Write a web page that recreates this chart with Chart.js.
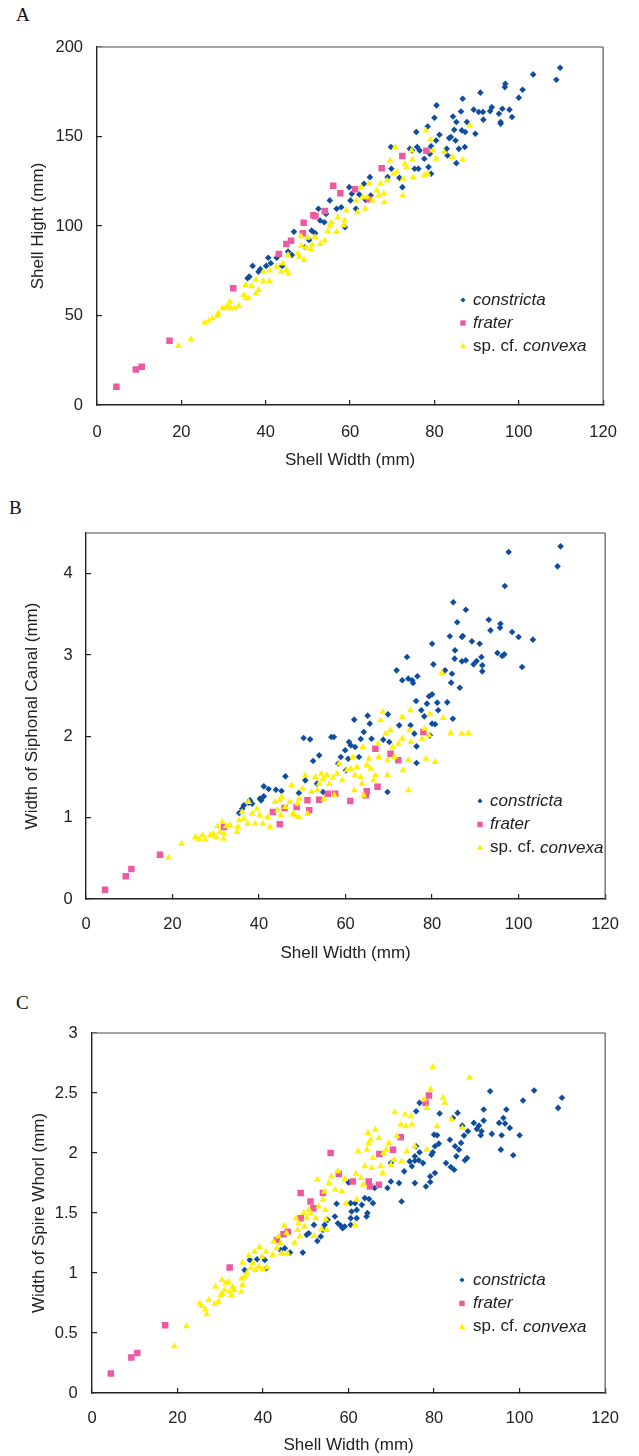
<!DOCTYPE html>
<html><head><meta charset="utf-8">
<script src="https://cdn.jsdelivr.net/npm/chart.js@4"></script>
<style>
html,body{margin:0;padding:0;background:#fff;}
body{width:639px;height:1456px;position:relative;overflow:hidden;}
.panel{position:absolute;left:0;width:639px;}
.letter{position:absolute;font-family:"Liberation Serif","Times New Roman",serif;font-size:19px;color:#111;line-height:1;}
</style></head><body>
<div class="letter" style="left:16px;top:5px">A</div>
<div class="letter" style="left:9px;top:498px">B</div>
<div class="letter" style="left:16px;top:993px">C</div>
<div class="panel" style="top:0;height:480px"><canvas id="cA"></canvas></div>
<div class="panel" style="top:480px;height:490px"><canvas id="cB"></canvas></div>
<div class="panel" style="top:970px;height:486px"><canvas id="cC"></canvas></div>
<script>
// ---------- DATA ----------
const seriesNames = ['constricta', 'frater', 'sp. cf. convexa'];
const xTitle = 'Shell Width (mm)';
const yTitles = ['Shell Hight (mm)', 'Width of Siphonal Canal (mm)', 'Width of Spire Whorl (mm)'];

// Panel A: Shell width vs shell height
const constrictaA = [[35.7,70.8],[36.1,71.7],[36.9,77.7],[38.3,74.5],[38.7,75.9],[40.1,77.7],[40.6,82.3],[41.2,79.2],[42.6,82.3],[43.9,77.7],[45.3,85.7],[46.2,83.8],[46.7,96.8],[49.3,88.1],[50.3,92.2],[50.9,97.4],[51.7,96],
[109.8,188.4],[108.9,181.7],[103.4,184.7],[100.9,176.1],[100,171.7],[96.8,179.5],[96.7,177.6],[96.1,165.5],[97.8,165],[98.4,160.9],[95.3,162.7],[95.7,158.1],[95.7,157.1],[93.6,166.4],[93.2,164.2],[91.5,163.7],[91.6,159.4],[90.5,163.7],[89.3,165],[90.9,174.5],[89.7,151.5],[86.7,171.1],[86.3,164],[84.4,161.2],[85.2,158.1],[87.7,158.1],[86.5,153.4],[87.3,152.5],[84.7,153.8],[83.9,149.7],[83.5,149.1],[85,147.8],[85.8,143.1],[87.2,144.1],[82.9,143.1],[83.1,139.4],[85.2,135.1],[80.5,167.4],[80,160.5],[81.2,151],[80.4,147.8],[79.2,144.5],[78.9,140.3],[78.4,155.6],[75.7,152.5],[75.9,144.1],[76.5,142.2],[77.6,137.6],[78.6,132.9],[79.2,129.2],[76.2,132],[75.3,132],[74.7,142.2],[74.2,143.1],[69.7,144.1],[69.8,132],[71.7,126.9],[72.4,121.7],[68.9,127.3],[64.7,127.3],[63.3,123.6],[59.8,121.7],[60.1,114.3],[60.4,118],[62.2,117.6],[61.4,109.6],[57.9,110.5],[56.8,109.6],[55.2,114.3],[54.3,106.8],[52.9,103.1],[52.5,109.6],[53.9,102.1],[58.8,99.3],[63.7,114.6],[64.9,117]];
const fraterA = [[4.6,10.2],[9.2,19.9],[10.6,21.4],[17.2,35.9],[32.3,65.2],[43.1,84.4],[44.9,89.9],[46,91.8],[48.8,95.9],[49,101.8],[51.3,106],[51.8,105.5],[54,108.4],[56,122.5],[57.7,118.3],[61.2,120.5],[64.5,115],[67.5,132.2],[72.4,139.1],[78.1,142.1]];
const convexaA = [[19.3,33],[22.3,36.7],[25.5,46],[26.5,47.1],[27.4,48.4],[28.6,49.7],[28.7,51.2],[29.8,54],[30.5,54],[30.9,55.3],[31.5,57.7],[31.7,54],[32.6,54],[33.6,55.3],[34.8,61.5],[35.4,59.6],[35.9,59.6],[35.2,67],[36.7,66.4],[37.7,62.4],[38.3,64.2],[37.7,70],[39.4,69.1],[39.4,74.3],[40.9,69.1],[40.9,75.2],[42.6,77.3],[43.7,74.5],[44.1,79.1],[44.9,75.4],[45.3,73.6],[45.3,83.8],[47.6,84.7],[48,82.8],[49.1,81],[48.4,88.8],[49.5,87.9],[50.7,87],[48.4,94.3],[49.9,93.4],[51,89.7],
[51.7,93.8],[52.9,90],[54,91.9],[54.7,97.1],[55.2,100.3],[55.6,102.1],[56.8,96.6],[57.1,104.9],[58.7,103.1],[58.5,100.3],[59.1,108.7],[61.4,114.3],[61.8,107.7],[62.6,121.7],[63,116.1],[63.6,109.6],[64.1,116.1],[64.5,123.6],[65.3,114.3],[66.3,119.9],[66.8,117],[67.2,123.6],[68,118],[68.1,113.3],[68.8,125.4],[69.5,136.6],[70.3,129.2],[70.7,144.1],[71.1,130.1],[72.5,117],[72.6,126.4],[73,134.8],[73.4,132.9],[74.6,142.2],[74.8,137],[75,127.3],[77.6,128.2],[78.4,129.2],[78,153.4],[79.1,148.2],[79.6,142.2],[80.4,137.6],[82.3,141.3],[84.3,138.5],[86.7,137],[88.4,156.2]];

// Panel B: Shell width vs width of siphonal canal
const constrictaB = [[109.7,4.336],[109,4.09],[97.7,4.266],[96.8,3.848],[84.9,3.648],[87.8,3.557],[85.8,3.402],[84.1,3.23],[86.9,3.221],[87.1,3.234],[93.1,3.434],[93.5,3.303],[95.8,3.385],[95.7,3.336],[98.5,3.283],[100,3.221],[103.3,3.189],[89.2,3.168],[91,3.139],[80,3.139],[85.3,3.057],[85.2,2.955],[86.9,2.922],[87.8,2.934],[89.6,2.885],[90.3,2.926],[91.4,2.975],[91.6,2.873],[91.6,2.799],[95.1,3.025],[96.2,2.988],[96.7,3.008],[100.8,2.852],[80.3,2.885],[74.2,2.975],[71.8,2.811],[73.1,2.689],[74.5,2.709],[75.4,2.689],[76.6,2.738],[75.6,2.656],[83,2.811],[84.6,2.77],[84.4,2.66],[86.4,2.598],[76.3,2.434],[77.5,2.32],[78.8,2.402],[79.3,2.492],[80,2.516],[81.2,2.414],[81.4,2.32],[83.5,2.418],[84.8,2.217],[78.2,2.246],[80,2.156],[80.7,2.148],[79.5,2.012],[75,2.135],[75.9,2.033],[76.4,1.877],[76.4,1.672],[72.4,2.135],[69.8,2.27],[65.1,2.254],[62,2.205],[65.6,2.156],[64.2,2.053],[63.5,1.967],[66,1.971],[68.7,1.959],[70.1,1.93],[60.8,1.93],[61.2,1.889],[62.2,1.869],[59.9,1.828],[58.9,1.746],[63.1,1.746],[60.6,1.725],[58.3,1.664],[60.1,1.582],[56.7,1.992],[57.3,1.992],[50.3,1.98],[51.8,1.963],[52.5,1.697],[53.9,1.766],[50.7,1.459],[53.4,1.418],[54.8,1.316],[46.1,1.508],[45.2,1.328],[43.9,1.344],[42.2,1.352],[41.1,1.385],[41.1,1.262],[40.2,1.234],[40.5,1.213],[49.2,1.303],[37.9,1.213],[38.4,1.172],[37.6,1.184],[36.5,1.152],[36.1,1.111],[35.4,1.057],[69.7,1.316]];
const fraterB = [[4.4,0.115],[9.2,0.279],[10.5,0.369],[17.1,0.545],[31.9,0.885],[43.2,1.07],[44.8,0.918],[45.9,1.119],[48.7,1.131],[51.2,1.213],[51.6,1.09],[53.9,1.221],[55.9,1.295],[57.6,1.295],[61.1,1.205],[64.7,1.275],[64.9,1.324],[67.4,1.381],[66.9,1.848],[70.4,1.787],[72.2,1.705],[78,2.053]];
const convexaB = [[19.1,0.508],[22.1,0.68],[25.3,0.762],[26.2,0.734],[26.9,0.783],[27.6,0.73],[28.7,0.783],[29.4,0.803],[30.1,0.762],[30.4,0.893],[31,0.824],[31.5,0.947],[31.9,0.803],[32.4,0.893],[31.8,0.742],[33.3,0.906],[34.9,0.824],[35.1,0.885],[35.4,0.967],[36.1,1.07],[36.5,0.988],[37.4,0.926],[37.6,1.193],[38.4,1.049],[39.1,0.926],[39.5,1.111],[40.2,1.029],[40.9,0.926],[42,1.008],[42.5,0.885],[43.7,1.193],[44.3,1.09],[44.8,1.213],[45.2,1.254],[45,1.029],[46.1,1.131],[47.1,1.193],[47.8,1.049],[47.5,1.398],[48.2,1.029],[48.9,1.172],[49.3,1.234],[49.2,1.008],[50.1,1.357],[50.7,1.52],[51.2,1.049],[52.1,1.316],[53,1.5],[53.5,1.336],[53.9,1.418],[54.4,1.541],[54.8,1.48],[55,1.234],[55.7,1.52],[56.2,1.418],[57.1,1.492],[57.4,1.275],[58,1.541],[58.5,1.664],[59.2,1.459],[60.3,1.582],[61.2,1.602],[61.7,1.746],[62.2,1.52],[62,1.336],[62.6,1.623],[63.5,1.5],[64,1.869],[63.8,1.418],[64.2,1.275],[64.9,1.643],[65.4,1.725],[65.8,1.602],[66.5,1.459],[66.9,1.52],[67.5,1.91],[67.7,1.746],[68.1,2.197],[68.6,2.299],[69.3,2.033],[69.7,1.705],[69.7,1.52],[70.4,2.074],[70.9,1.869],[71.3,1.746],[72.2,1.91],[73.1,1.971],[73.1,2.238],[73.3,1.582],[74.5,1.705],[74.5,1.336],[75,2.32],[74.8,2.074],[75.1,1.93],[77.7,1.971],[78.3,2.094],[78.6,1.725],[79.5,2.27],[79.3,2.012],[80.7,1.684],[82.3,2.779],[82.6,2.225],[84.3,2.041],[86.9,2.033],[88.4,2.041]];

// Panel C: Shell width vs width of spire whorl
const constrictaC = [[109.9,2.46],[109,2.376],[103.4,2.521],[100.8,2.437],[93.1,2.515],[91.6,2.362],[96.9,2.362],[96.2,2.292],[95.2,2.251],[96.6,2.245],[97.7,2.209],[93.5,2.159],[95.8,2.148],[100,2.148],[95.6,2.028],[98.5,1.981],[91.6,2.27],[90.5,2.228],[90,2.201],[91.1,2.181],[90.9,2.148],[89.3,2.251],[87.9,2.181],[86.6,2.228],[87,2.145],[85.5,2.334],[84.4,2.292],[86.3,2.084],[84.9,2.056],[85.8,2.028],[85.2,1.972],[83.7,2.111],[81.3,2.329],[80.7,2.148],[80,2.153],[81.1,2.078],[80.2,2.056],[79.7,2.006],[79.4,1.986],[87.7,1.958],[87.2,1.939],[82.8,1.916],[83.9,1.883],[84.7,1.861],[80.2,1.833],[79.1,1.805],[79.1,1.758],[78.1,1.721],[76.6,2.418],[75.8,2.348],[75.8,2.056],[76.6,2.006],[75.5,1.972],[74.3,1.93],[75.5,1.936],[76.4,1.939],[77.4,1.916],[74.8,1.889],[73,1.847],[75.5,1.749],[71.8,1.749],[69.1,1.708],[69.9,1.763],[69.9,1.916],[72.4,1.596],[66.1,1.708],[64.8,1.616],[65.7,1.582],[63.8,1.624],[63.1,1.568],[61.9,1.526],[64.4,1.499],[64.2,1.471],[61.9,1.457],[61.5,1.582],[60.5,1.582],[60,1.755],[60.7,1.513],[60.5,1.457],[60.5,1.401],[59.1,1.387],[58.6,1.373],[58.2,1.393],[57.5,1.415],[57.2,1.577],[56.8,1.471],[55.1,1.443],[54.4,1.401],[54,1.359],[53.5,1.304],[52.7,1.267],[51.9,1.401],[50.7,1.331],[50.2,1.318],[49.3,1.17],[46.3,1.17],[45.1,1.206],[44.1,1.192],[40.8,1.039],[40.4,1.109],[38.6,1.114],[36.9,1.109],[35.7,1.025]];
const fraterC = [[4.4,0.162],[9.2,0.295],[10.6,0.334],[17.1,0.565],[32.2,1.045],[43.2,1.276],[44.8,1.323],[45.8,1.343],[48.8,1.666],[48.8,1.457],[51.1,1.596],[51.8,1.54],[54,1.666],[55.8,2],[57.7,1.825],[61,1.763],[64.7,1.763],[65,1.721],[67.1,1.735],[67.2,1.992],[70.4,2.028],[72.2,2.131],[78,2.418],[78.8,2.479]];
const convexaC = [[19.3,0.39],[22.1,0.557],[25.2,0.747],[25.6,0.724],[26.5,0.696],[26.8,0.657],[27.3,0.774],[28.7,0.741],[28.9,0.886],[29.6,0.76],[30.1,0.816],[30.4,0.942],[30.5,0.83],[31,0.858],[31.3,0.914],[31.9,0.928],[32.2,0.844],[32.6,0.816],[32.9,0.886],[33.3,0.858],[34.9,0.844],[35,0.955],[35.2,0.9],[35.2,1.086],[35.7,0.969],[36.2,0.997],[36.6,1.142],[37.1,1.039],[37.6,1.081],[38.2,1.025],[38,1.178],[39,1.053],[39.2,1.214],[39.7,1.136],[39.9,1.031],[40.7,1.178],[40.9,1.045],[42.2,1.15],[42.5,1.262],[43.2,1.206],[43.6,1.304],[44.1,1.248],[44.3,1.164],[45,1.393],[45.5,1.331],[45.7,1.164],[47.4,1.253],[47.7,1.457],[48.1,1.359],[48.3,1.415],[48.6,1.304],[49.5,1.499],[49.7,1.387],[50.2,1.457],[50.7,1.526],[51.1,1.499],[51.9,1.309],[52.3,1.457],[52.7,1.777],[53,1.554],[53.7,1.365],[54,1.61],[54.4,1.68],[54.6,1.526],[54.7,1.448],[54.9,1.359],[55.4,1.749],[56,1.805],[56.9,1.694],[57.5,1.847],[58.4,1.68],[59.4,1.582],[59.1,1.783],[61.5,1.401],[61.7,1.827],[61.9,1.61],[62.2,2.014],[62.9,1.791],[63.5,1.735],[63.8,1.889],[64.3,2.028],[64.5,2.167],[64.7,2.084],[65.2,2.111],[65.4,1.875],[65.7,1.958],[66.3,2.195],[67.1,2.125],[67.5,1.889],[68,1.833],[68.2,2],[68.8,2.028],[69.4,2.084],[69.9,1.903],[70.6,1.944],[70.8,2.34],[71.3,2.139],[72.2,2.237],[72.4,1.93],[73.2,2.32],[73.4,2.223],[73.6,2.014],[74.6,2.306],[74.8,2.237],[75.5,2.056],[78.3,2.028],[78.3,2.376],[77.6,2.446],[79.2,2.529],[79.7,2.716],[80.7,2.223],[82.1,2.46],[82.5,2.418],[84.1,2.279],[86.6,2.209],[88.3,2.627]];

// ---------- STYLE ----------
const BLUE = '#0f4e9e', PINK = '#ee5aa2', YELLOW = '#fff100';
const SANS = '"Liberation Sans", Arial, Helvetica, sans-serif';
const TXT = '#222';

function toXY(arr){ return arr.map(p => ({x:p[0], y:p[1]})); }

function marker(ctx, style, x, y, s){
  ctx.beginPath();
  if (style === 'diamond'){ ctx.moveTo(x, y-s); ctx.lineTo(x+s, y); ctx.lineTo(x, y+s); ctx.lineTo(x-s, y); }
  else if (style === 'square'){ ctx.rect(x-s, y-s, 2*s, 2*s); }
  else { ctx.moveTo(x, y-s*1.15); ctx.lineTo(x+s*1.05, y+s*0.75); ctx.lineTo(x-s*1.05, y+s*0.75); }
  ctx.closePath(); ctx.fill();
}

const insideLegend = {
  id: 'insideLegend',
  afterDraw(chart, args, o){
    const ctx = chart.ctx;
    ctx.save();
    const items = [
      {style:'diamond', color:BLUE, s:2.6, parts:[[seriesNames[0], true]]},
      {style:'square', color:PINK, s:2.7, parts:[[seriesNames[1], true]]},
      {style:'triangle', color:YELLOW, s:3.0, parts:[['sp. cf. ', false], ['convexa', true]]}
    ];
    items.forEach((it, i) => {
      const y = o.y + i * o.dy;
      ctx.fillStyle = it.color;
      marker(ctx, it.style, o.mx, y, it.s);
      let x = o.tx;
      ctx.fillStyle = TXT;
      ctx.textBaseline = 'middle';
      ctx.textAlign = 'left';
      it.parts.forEach(([t, ital]) => {
        ctx.font = (ital ? 'italic ' : '') + '17px ' + SANS;
        ctx.fillText(t, x, y);
        x += ctx.measureText(t).width;
      });
    });
    ctx.restore();
  }
};

const frame = {
  id: 'frame',
  afterDraw(chart){
    const {ctx, chartArea: a} = chart;
    ctx.save();
    ctx.strokeStyle = '#858585';
    ctx.lineWidth = 1.6;
    ctx.beginPath();
    ctx.moveTo(a.left, a.top); ctx.lineTo(a.right, a.top);
    ctx.stroke();
    ctx.strokeStyle = '#555';
    ctx.lineWidth = 1.2;
    ctx.beginPath();
    ctx.moveTo(a.right, a.top); ctx.lineTo(a.right, a.bottom);
    ctx.stroke();
    ctx.restore();
  }
};

function makeChart(id, p){
  const ctx = document.getElementById(id);
  return new Chart(ctx, {
    type: 'scatter',
    data: { datasets: [
      {label: seriesNames[0], data: toXY(p.c), pointStyle:'rectRot', pointRadius:3.3, pointBorderWidth:0, backgroundColor:BLUE, borderColor:BLUE, order:3},
      {label: seriesNames[1], data: toXY(p.f), pointStyle:'rect', pointRadius:4.6, pointBorderWidth:0, backgroundColor:PINK, borderColor:PINK, order:2},
      {label: seriesNames[2], data: toXY(p.v), pointStyle:'triangle', pointRadius:4.0, pointBorderWidth:0, backgroundColor:YELLOW, borderColor:YELLOW, order:1}
    ]},
    options: {
      responsive: true, maintainAspectRatio: false, animation: false,
      events: [],
      layout: { padding: { left: 0, right: 639 - p.right, top: p.top, bottom: 0 } },
      plugins: { legend: {display:false}, tooltip: {enabled:false},
        insideLegend: p.legend },
      scales: {
        x: {
          type: 'linear', min: 0, max: 120,
          ticks: { stepSize: 20, color: TXT, font: {family: SANS, size: 16.5}, padding: p.xtp, maxRotation: 0 },
          grid: { drawOnChartArea: false, drawTicks: true, tickLength: -5, color: '#222', lineWidth: 1.2 },
          border: { color: '#222', width: 1.4 },
          title: { display: true, text: xTitle, color: TXT, font: {family: SANS, size: 17}, padding: {top: 0, bottom: p.xttp} },
          afterFit(s){ s.height = p.h - p.bottom; }
        },
        y: {
          type: 'linear', min: 0, max: p.ymax,
          ticks: { stepSize: p.ystep, color: TXT, font: {family: SANS, size: 16.5}, padding: p.ytp, includeBounds: false,
                   callback: v => String(Math.round(v * 100) / 100) },
          grid: { drawOnChartArea: false, drawTicks: true, tickLength: -5, color: '#222', lineWidth: 1.2 },
          border: { color: '#222', width: 1.4 },
          title: { display: true, text: p.ytitle, color: TXT, font: {family: SANS, size: 17}, padding: {top: p.yttp, bottom: 0} },
          afterFit(s){ s.width = p.left; }
        }
      }
    },
    plugins: [frame, insideLegend]
  });
}

makeChart('cA', { c: constrictaA, f: fraterA, v: convexaA, h: 480, left: 97, right: 613, top: 47, bottom: 405,
  ymax: 200, ystep: 50, ytitle: yTitles[0], xtp: 22.1, xttp: 9.8, ytp: 19, yttp: 27.8,
  legend: { mx: 463, tx: 473, y: 300, dy: 23 } });
makeChart('cB', { c: constrictaB, f: fraterB, v: convexaB, h: 490, left: 86, right: 621, top: 53, bottom: 419,
  ymax: 4.5, ystep: 1, ytitle: yTitles[1], xtp: 20.1, xttp: 6.8, ytp: 18.4, yttp: 21.8,
  legend: { mx: 480, tx: 490, y: 321, dy: 23.4 } });
makeChart('cC', { c: constrictaC, f: fraterC, v: convexaC, h: 486, left: 92, right: 617, top: 63, bottom: 423,
  ymax: 3, ystep: 0.5, ytitle: yTitles[2], xtp: 20.1, xttp: 0.8, ytp: 19.3, yttp: 28.8,
  legend: { mx: 462, tx: 473, y: 310, dy: 23.4 } });
</script>
</body></html>
